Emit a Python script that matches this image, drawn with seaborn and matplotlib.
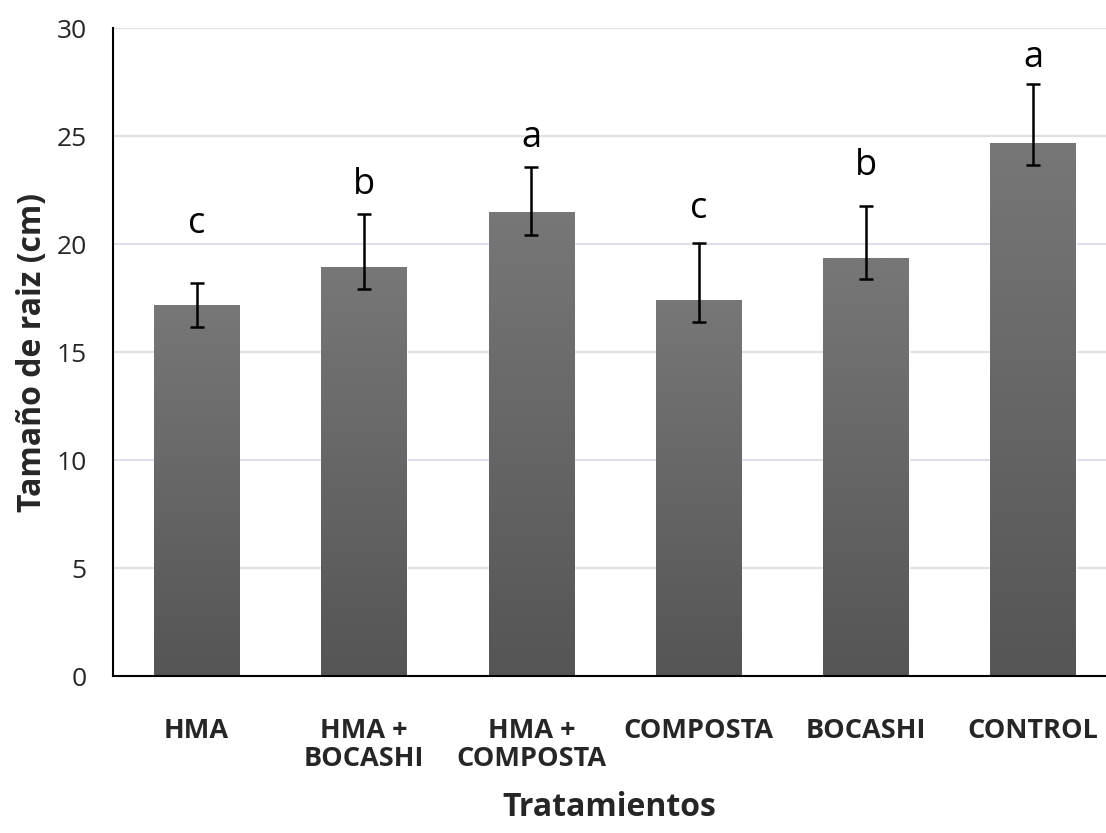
import numpy as np
import pandas as pd
import matplotlib
matplotlib.use("Agg")
import matplotlib.pyplot as plt
import seaborn as sns

# data
tratamientos = ["HMA", "HMA +\nBOCASHI", "HMA +\nCOMPOSTA", "COMPOSTA", "BOCASHI", "CONTROL"]
tamano = [17.18, 18.94, 21.48, 17.41, 19.35, 24.68]
err_up = [1.02, 2.46, 2.07, 2.65, 2.41, 2.73]
err_down = [1.02, 1.04, 1.05, 1.01, 0.98, 1.01]
letras = ["c", "b", "a", "c", "b", "a"]
letras_y = [20.5, 22.3, 24.5, 21.2, 23.2, 28.2]

df = pd.DataFrame({"trat": tratamientos, "tam": tamano})

sns.set_style("white")
plt.rcParams["font.family"] = ["Open Sans", "DejaVu Sans"]

fig = plt.figure(figsize=(11.06, 8.33), dpi=100)
ax = fig.add_axes([113 / 1106, 157 / 833, 993 / 1106, 648 / 833])

sns.barplot(data=df, x="trat", y="tam", color="#666666", width=0.51,
            saturation=1, ax=ax, errorbar=None)

# gradient fill on bars
grad = np.linspace(0, 1, 256).reshape(-1, 1)
cmap = matplotlib.colors.LinearSegmentedColormap.from_list("g", ["#555555", "#777777"])
for p in ax.patches:
    x0, y0 = p.get_x(), p.get_y()
    w, h = p.get_width(), p.get_height()
    im = ax.imshow(grad, cmap=cmap, extent=[x0, x0 + w, y0, y0 + h],
                   origin="lower", aspect="auto", zorder=p.get_zorder() + 0.1)
    im.set_clip_path(p)
ax.set_xlim(-0.5, -0.5 + 993 / 167.3)
ax.set_ylim(0, 30)

centers = [p.get_x() + p.get_width() / 2 for p in ax.patches]
ax.errorbar(centers, tamano, yerr=[err_down, err_up], fmt="none",
            ecolor="black", elinewidth=1.8, capsize=4.7, capthick=1.8, zorder=5)

for xc, ly, l in zip(centers, letras_y, letras):
    ax.text(xc, ly, l, ha="center", va="baseline", fontsize=26, color="black")

ax.set_yticks([0, 5, 10, 15, 20, 25, 30])
ax.yaxis.grid(True, color="#dde1e6", linewidth=1.5)
ax.set_axisbelow(True)
for s in ["top", "right"]:
    ax.spines[s].set_visible(False)
ax.spines["left"].set_color("black")
ax.spines["bottom"].set_color("black")
ax.spines["left"].set_linewidth(1.5)
ax.spines["bottom"].set_linewidth(1.5)

ax.tick_params(axis="y", length=0, pad=19, labelsize=19)
ax.tick_params(axis="x", length=0, pad=30, labelsize=19.5)
for t in ax.get_xticklabels():
    t.set_fontweight("bold")
    t.set_linespacing(1.1)

ax.set_xlabel("Tratamientos", fontsize=23, fontweight="bold", labelpad=14)
ax.set_ylabel("Tamaño de raiz (cm)", fontsize=23, fontweight="bold", labelpad=5)

fig.savefig("out.png", dpi=100)
